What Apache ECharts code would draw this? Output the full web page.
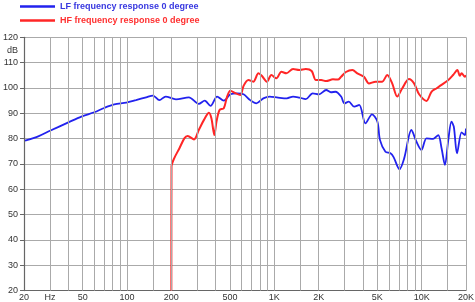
<!DOCTYPE html>
<html><head><meta charset="utf-8">
<script src="https://cdn.jsdelivr.net/npm/echarts@6/dist/echarts.min.js"></script>
<style>html,body{margin:0;padding:0;background:#fff}#c{width:475px;height:302px}</style>
</head><body><div id="c"></div>
<script>
// LF (blue) curve: frequency in Hz, level in dB
const lfFreq = [20.3, 25.2, 30, 40, 49, 60, 70, 82, 99, 115, 135, 150, 166, 183, 215, 263, 307, 337, 369, 409, 454, 503, 559, 618, 686, 755, 842, 930, 1059, 1217, 1340, 1478, 1635, 1822, 2011, 2250, 2420, 2600, 2840, 2990, 3200, 3490, 3770, 4160, 4600, 5010, 5210, 5680, 6140, 6450, 7070, 7610, 8520, 9220, 9970, 10790, 11980, 12960, 13650, 14390, 15170, 15930, 16530, 17380, 18670, 19660, 20000];
const lfDb = [79.2, 81.0, 83.1, 86.4, 88.7, 90.4, 92.1, 93.5, 94.2, 95.2, 96.3, 97.0, 95.2, 96.6, 95.5, 96.3, 93.7, 95.0, 92.9, 96.6, 95.0, 97.5, 97.9, 97.5, 95.2, 93.9, 95.9, 96.6, 96.2, 95.9, 96.6, 96.2, 95.6, 97.9, 97.5, 99.2, 98.3, 98.5, 96.6, 93.9, 94.6, 92.6, 93.3, 86.0, 89.6, 86.7, 79.5, 74.8, 74.2, 72.7, 67.9, 72.2, 83.4, 78.8, 75.5, 80.1, 79.9, 81.4, 76.2, 69.6, 79.5, 86.7, 84.7, 74.2, 82.5, 81.4, 84.0];
// HF (red) curve
const hfFreq = [200, 200.5, 209, 227, 245, 258, 285, 307, 333, 360, 374, 392, 405, 425, 454, 478, 503, 545, 588, 618, 667, 720, 780, 822, 890, 955, 1032, 1117, 1207, 1340, 1478, 1635, 1793, 1915, 2080, 2250, 2500, 2700, 2840, 3060, 3390, 3660, 4060, 4390, 4870, 5400, 5840, 6310, 6830, 7390, 8200, 8880, 9610, 10790, 11660, 12650, 13650, 15170, 16350, 17480, 18140, 18670, 19660, 20000];
const hfDb = [20, 68.9, 72.2, 76.2, 80.1, 81.0, 79.7, 83.4, 87.4, 90.2, 88.0, 81.4, 86.7, 91.3, 92.0, 96.6, 98.9, 97.9, 97.2, 100.8, 103.1, 102.5, 105.8, 104.8, 102.5, 105.1, 103.8, 106.4, 105.8, 107.5, 107.1, 107.5, 106.7, 103.1, 103.1, 102.7, 103.4, 103.3, 104.4, 106.3, 107.1, 105.8, 104.4, 101.8, 102.5, 102.5, 105.1, 101.8, 96.6, 99.9, 103.5, 101.8, 97.5, 94.9, 98.5, 99.9, 101.2, 103.1, 105.1, 107.1, 104.8, 105.8, 104.4, 105.0];
const gridFreqs = [30, 40, 50, 60, 70, 80, 90, 100, 150, 200, 300, 400, 500, 600, 700, 800, 900, 1000, 1500, 2000, 3000, 4000, 5000, 6000, 7000, 8000, 9000, 10000, 15000, 20000];
const tickFreqs = [20, 30, 50, 100, 200, 500, 1000, 2000, 5000, 10000, 20000];
const tickLabels = ['20', 'Hz', '50', '100', '200', '500', '1K', '2K', '5K', '10K', '20K'];
const seriesNames = ['LF frequency response 0 degree', 'HF frequency response 0 degree'];
const seriesColors = ['#2222ee', '#ff2626'];
const legendColors = ['#3838e0', '#ff3030'];

const zip = (a, b) => a.map((v, i) => [v, b[i]]);
const chart = echarts.init(document.getElementById('c'), null, {renderer: 'canvas'});
const labelFont = 'Liberation Sans, Arial, sans-serif';
chart.setOption({
  animation: false,
  grid: {left: 20, right: 9, top: 37.3, bottom: 11.4},
  legend: {
    orient: 'vertical', left: 20, top: 2, padding: 0, itemGap: 5,
    itemWidth: 35, itemHeight: 2.5, icon: 'rect',
    textStyle: {fontFamily: 'Liberation Sans Narrow, Arial Narrow, Liberation Sans, sans-serif', fontWeight: 'bold', fontSize: 9},
    data: seriesNames.map((n, i) => ({name: n, textStyle: {color: legendColors[i]}}))
  },
  xAxis: {
    type: 'log', logBase: 10, min: 20, max: 20000,
    axisLine: {lineStyle: {color: '#666', width: 1.2}},
    axisTick: {show: false}, axisLabel: {show: false}, splitLine: {show: false}
  },
  yAxis: {
    type: 'value', min: 20, max: 120, interval: 10,
    name: 'dB', nameLocation: 'end', nameGap: -13,
    nameTextStyle: {align: 'right', verticalAlign: 'middle', padding: [0, 6, 0, 0], fontSize: 9, color: '#333', fontFamily: labelFont},
    axisLine: {show: true, lineStyle: {color: '#666', width: 1.2}},
    axisTick: {show: true, length: 4, lineStyle: {color: '#666'}},
    axisLabel: {margin: 6, fontSize: 9, color: '#333', fontFamily: labelFont},
    splitLine: {lineStyle: {color: '#aaa', width: 1}}
  },
  series: [
    {
      type: 'line', name: 'grid', data: [], silent: true, z: 1,
      markLine: {
        silent: true, symbol: 'none', animation: false,
        label: {show: false},
        lineStyle: {color: '#aaa', type: 'solid', width: 1},
        data: gridFreqs.map(f => ({xAxis: f}))
      }
    },
    {
      type: 'line', name: 'ticks', data: [], silent: true, z: 1,
      markLine: {
        silent: true, symbol: 'none', animation: false,
        lineStyle: {color: 'rgba(0,0,0,0)', width: 0},
        label: {show: true, position: 'start', distance: 2, fontSize: 9, color: '#333', fontFamily: labelFont},
        data: tickFreqs.map((f, i) => ({xAxis: f, label: {formatter: tickLabels[i]}}))
      }
    },
    {
      type: 'line', name: seriesNames[0], data: zip(lfFreq, lfDb), showSymbol: false, smooth: 0.3, z: 3,
      lineStyle: {color: seriesColors[0], width: 1.8}, itemStyle: {color: seriesColors[0]}
    },
    {
      type: 'line', name: seriesNames[1], data: zip(hfFreq, hfDb), showSymbol: false, smooth: 0.3, z: 4,
      lineStyle: {color: seriesColors[1], width: 2}, itemStyle: {color: seriesColors[1]}
    }
  ]
});
</script>
</body></html>
